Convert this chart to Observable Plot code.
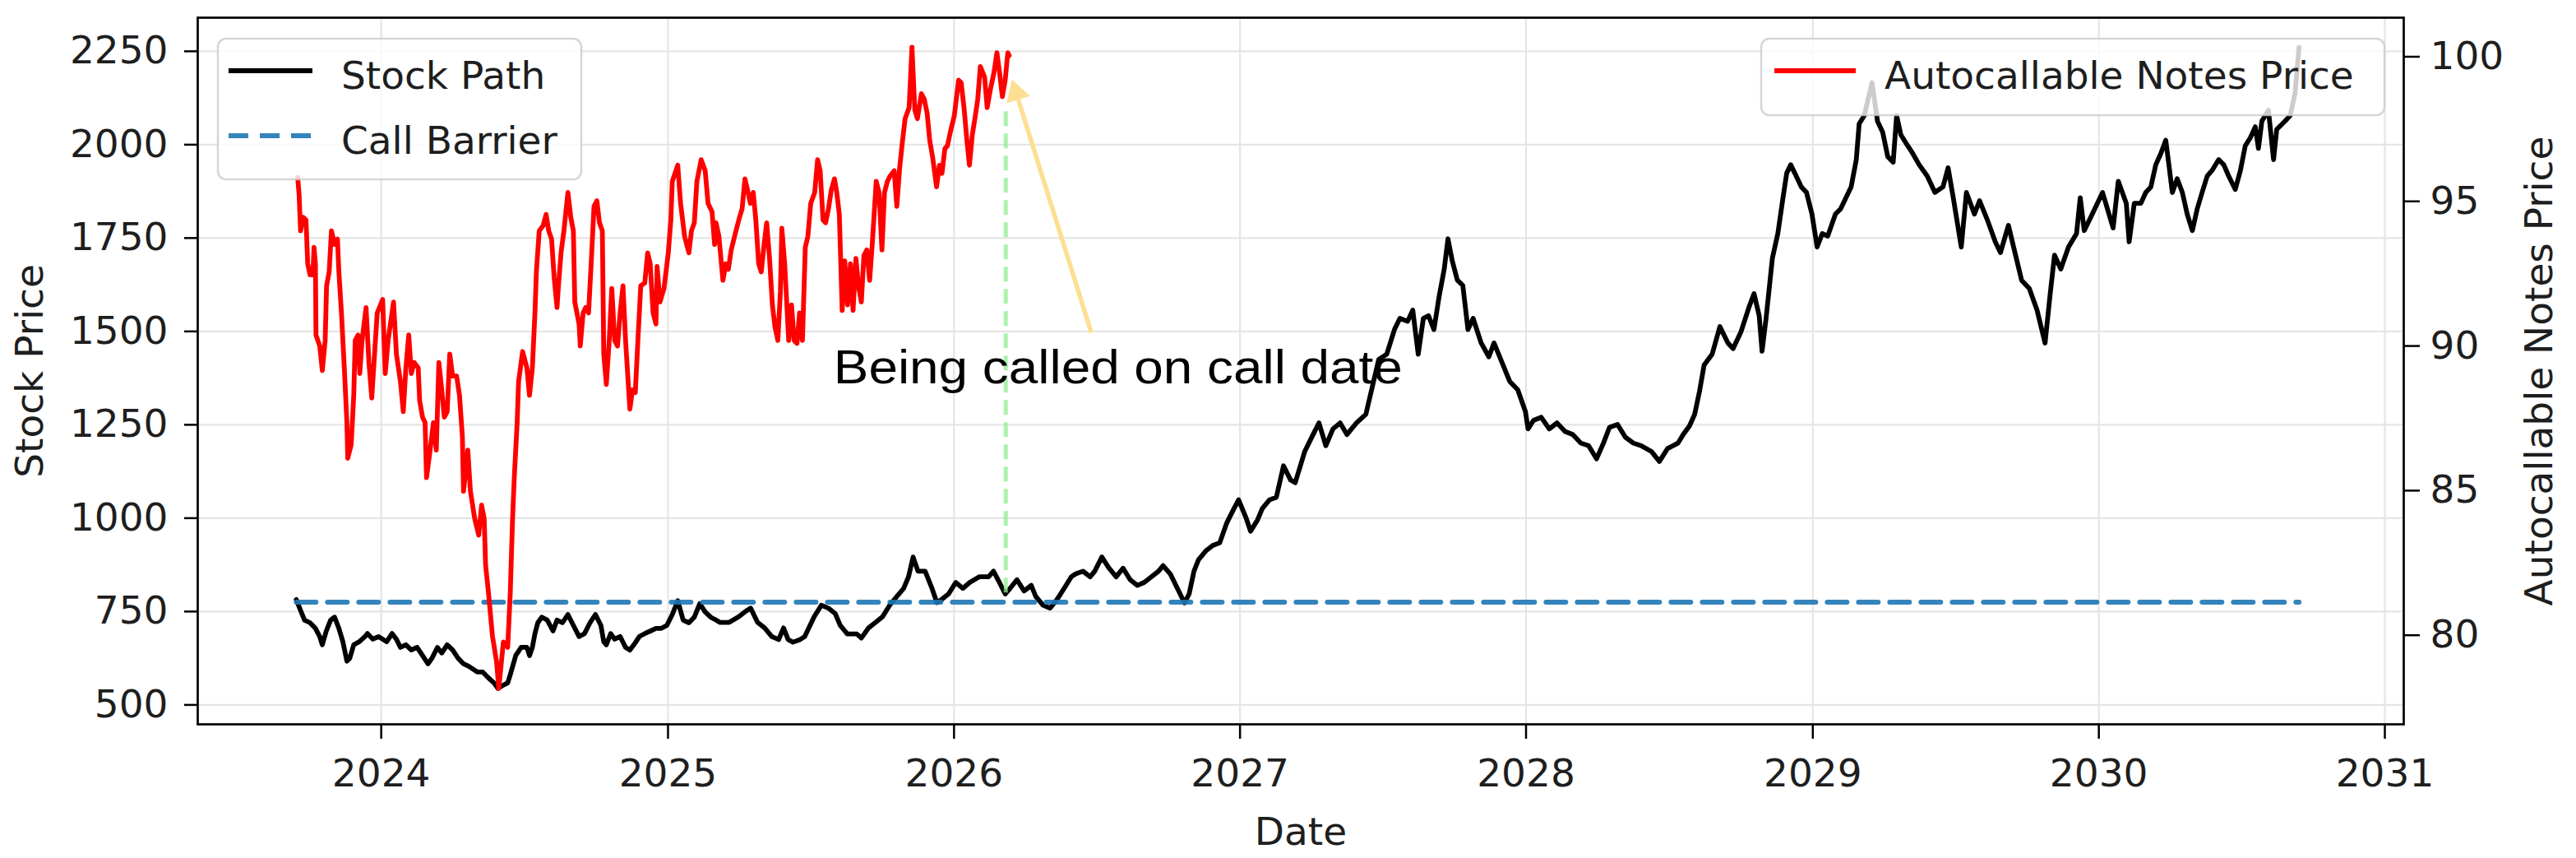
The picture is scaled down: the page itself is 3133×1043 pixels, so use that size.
<!DOCTYPE html>
<html><head><meta charset="utf-8">
<script src="https://cdn.jsdelivr.net/npm/d3@7"></script>
<script src="https://cdn.jsdelivr.net/npm/@observablehq/plot@0.6"></script>
<style>
html,body{margin:0;padding:0;background:#fff;}
#wrap{position:relative;width:3133px;height:1043px;overflow:hidden;background:#fff;}
#wrap svg{display:block;}
#legend{position:absolute;left:0;top:0;pointer-events:none;}
</style></head>
<body><div id="wrap"></div>
<script>
// ---------------- data ----------------
const stockYears = [
2023.703,2023.718,2023.732,2023.751,2023.770,2023.785,2023.794,2023.808,2023.823,2023.837,2023.852,2023.866,2023.880,2023.890,2023.904,2023.923,2023.943,2023.952,2023.971,2023.991,
2024.019,2024.038,2024.053,2024.067,2024.086,2024.105,2024.125,2024.144,2024.163,2024.177,2024.196,2024.211,2024.230,2024.249,2024.268,2024.287,2024.306,2024.335,2024.354,2024.373,
2024.393,2024.407,2024.421,2024.441,2024.450,2024.469,2024.488,2024.508,2024.517,2024.527,2024.536,2024.546,2024.560,2024.579,2024.599,2024.613,2024.632,2024.651,2024.670,2024.690,
2024.709,2024.728,2024.747,2024.766,2024.776,2024.785,2024.800,2024.814,2024.833,2024.852,2024.867,2024.881,2024.900,2024.919,2024.939,2024.958,2024.977,2024.996,2025.015,2025.034,
2025.053,2025.073,2025.092,2025.111,2025.130,2025.149,2025.168,2025.181,2025.214,2025.247,2025.272,2025.289,2025.313,2025.338,2025.363,2025.387,2025.404,2025.420,2025.437,2025.462,
2025.478,2025.511,2025.536,2025.561,2025.585,2025.602,2025.627,2025.660,2025.676,2025.701,2025.726,2025.750,2025.775,2025.800,2025.824,2025.841,2025.857,2025.874,2025.899,2025.923,
2025.940,2025.956,2025.981,2026.006,2026.031,2026.055,2026.088,2026.121,2026.138,2026.154,2026.179,2026.196,2026.220,2026.245,2026.270,2026.286,2026.311,2026.336,2026.360,2026.385,
2026.410,2026.426,2026.451,2026.476,2026.492,2026.517,2026.542,2026.567,2026.591,2026.616,2026.641,2026.665,2026.690,2026.715,2026.731,2026.756,2026.781,2026.806,2026.822,2026.839,
2026.855,2026.880,2026.905,2026.929,2026.954,2026.979,2026.995,2027.020,2027.037,2027.061,2027.078,2027.103,2027.127,2027.152,2027.177,2027.193,2027.226,2027.251,2027.276,2027.300,
2027.325,2027.350,2027.374,2027.407,2027.440,2027.485,2027.513,2027.540,2027.559,2027.586,2027.604,2027.623,2027.641,2027.659,2027.678,2027.696,2027.714,2027.727,2027.742,2027.760,
2027.779,2027.797,2027.815,2027.843,2027.870,2027.888,2027.916,2027.943,2027.971,2027.998,2028.007,2028.026,2028.053,2028.081,2028.108,2028.136,2028.163,2028.191,2028.218,2028.246,
2028.270,2028.291,2028.319,2028.346,2028.374,2028.401,2028.438,2028.465,2028.493,2028.530,2028.548,2028.570,2028.588,2028.605,2028.621,2028.649,2028.676,2028.704,2028.722,2028.749,
2028.777,2028.795,2028.813,2028.823,2028.837,2028.859,2028.878,2028.896,2028.909,2028.923,2028.942,2028.960,2028.978,2028.997,2029.015,2029.033,2029.052,2029.079,2029.097,2029.116,
2029.134,2029.152,2029.162,2029.180,2029.207,2029.226,2029.244,2029.262,2029.281,2029.293,2029.308,2029.326,2029.345,2029.372,2029.400,2029.427,2029.455,2029.473,2029.491,2029.519,
2029.537,2029.565,2029.583,2029.610,2029.638,2029.656,2029.684,2029.702,2029.730,2029.757,2029.784,2029.812,2029.830,2029.845,2029.867,2029.894,2029.922,2029.935,2029.949,2029.977,
2030.013,2030.050,2030.068,2030.096,2030.106,2030.124,2030.147,2030.164,2030.182,2030.199,2030.216,2030.234,2030.245,2030.257,2030.274,2030.292,2030.309,2030.327,2030.344,2030.361,
2030.379,2030.396,2030.419,2030.437,2030.454,2030.477,2030.495,2030.512,2030.530,2030.547,2030.558,2030.570,2030.593,2030.611,2030.622,2030.651,2030.669,2030.686,2030.700
];
const stockPrices = [
782,753,727,720,705,683,661,698,727,735,705,669,617,625,661,669,683,691,676,683,
669,691,676,654,661,647,654,632,610,625,654,639,661,647,625,610,603,588,588,573,
559,544,551,559,581,632,654,654,632,654,691,720,735,727,698,727,720,742,713,683,
691,720,742,713,669,661,691,676,683,654,647,661,683,691,698,705,705,713,742,779,
727,720,735,771,749,735,727,721,721,736,751,759,721,706,683,675,706,675,668,675,
683,736,767,759,744,713,690,690,679,706,721,736,767,790,812,843,896,858,858,812,
774,782,797,828,812,828,843,843,858,835,797,812,835,805,820,790,767,759,782,812,
843,851,858,843,858,896,866,843,866,835,820,828,843,858,873,851,812,773,797,858,
889,912,927,934,988,1026,1049,1003,965,995,1026,1049,1056,1140,1102,1095,1178,1217,1255,1194,
1239,1255,1224,1255,1278,1425,1439,1505,1535,1527,1557,1439,1535,1542,1505,1593,1667,1748,1689,1637,
1623,1505,1535,1469,1432,1469,1417,1366,1344,1285,1239,1262,1270,1239,1255,1232,1224,1201,1194,1159,
1201,1243,1251,1217,1201,1194,1178,1152,1186,1201,1224,1247,1278,1340,1410,1439,1513,1469,1454,1498,
1564,1601,1542,1447,1535,1696,1762,1858,1924,1946,1916,1887,1872,1814,1726,1762,1755,1814,1828,1858,
1887,1960,2056,2078,2166,2063,2034,1968,1953,2078,2026,2004,1982,1946,1916,1872,1887,1938,1858,1726,
1872,1814,1850,1799,1740,1711,1784,1726,1637,1615,1557,1469,1601,1704,1667,1726,1762,1858,1770,1814,
1872,1777,1902,1843,1740,1843,1843,1872,1887,1946,1975,2012,1946,1872,1909,1872,1814,1770,1828,1872,
1916,1931,1960,1946,1916,1880,1931,1997,2019,2048,1990,2063,2092,1960,2041,2063,2078,2137,2261
];
const notesYears = [
2023.708,2023.713,2023.718,2023.727,2023.737,2023.743,2023.751,2023.761,2023.765,2023.770,2023.772,2023.785,2023.794,2023.804,2023.809,2023.818,2023.826,2023.837,2023.847,2023.852,
2023.861,2023.871,2023.880,2023.883,2023.895,2023.904,2023.909,2023.919,2023.925,2023.933,2023.947,2023.957,2023.967,2023.976,2023.986,2024.005,2024.014,2024.024,2024.043,2024.053,
2024.067,2024.077,2024.086,2024.096,2024.105,2024.115,2024.129,2024.134,2024.144,2024.153,2024.158,2024.168,2024.182,2024.192,2024.201,2024.211,2024.220,2024.230,2024.239,2024.249,
2024.263,2024.273,2024.283,2024.287,2024.302,2024.311,2024.326,2024.340,2024.350,2024.359,2024.364,2024.374,2024.388,2024.402,2024.410,2024.426,2024.441,2024.450,2024.458,2024.464,
2024.474,2024.479,2024.493,2024.508,2024.517,2024.527,2024.536,2024.541,2024.551,2024.565,2024.575,2024.584,2024.594,2024.603,2024.613,2024.618,2024.627,2024.637,2024.651,2024.661,
2024.670,2024.675,2024.690,2024.694,2024.704,2024.713,2024.723,2024.733,2024.742,2024.752,2024.761,2024.771,2024.776,2024.785,2024.795,2024.804,2024.814,2024.824,2024.833,2024.843,
2024.852,2024.867,2024.876,2024.886,2024.895,2024.905,2024.919,2024.929,2024.938,2024.948,2024.958,2024.962,2024.972,2024.986,2025.001,2025.010,2025.015,2025.034,2025.044,2025.058,
2025.073,2025.082,2025.092,2025.101,2025.116,2025.130,2025.140,2025.154,2025.163,2025.168,2025.178,2025.192,2025.202,2025.211,2025.221,2025.235,2025.250,2025.259,2025.269,2025.278,
2025.288,2025.298,2025.307,2025.317,2025.326,2025.336,2025.345,2025.355,2025.365,2025.374,2025.384,2025.393,2025.398,2025.408,2025.422,2025.432,2025.441,2025.451,2025.460,2025.470,
2025.480,2025.489,2025.499,2025.513,2025.523,2025.532,2025.542,2025.551,2025.561,2025.571,2025.582,2025.590,2025.599,2025.609,2025.618,2025.628,2025.638,2025.647,2025.657,2025.666,
2025.676,2025.685,2025.695,2025.705,2025.714,2025.728,2025.738,2025.748,2025.757,2025.767,2025.776,2025.791,2025.800,2025.810,2025.819,2025.829,2025.843,2025.853,2025.863,2025.872,
2025.886,2025.896,2025.906,2025.915,2025.925,2025.939,2025.949,2025.958,2025.968,2025.977,2025.987,2026.001,2026.016,2026.025,2026.035,2026.045,2026.054,2026.064,2026.073,2026.083,
2026.092,2026.107,2026.116,2026.126,2026.140,2026.150,2026.159,2026.169,2026.179,2026.188,2026.193
];
const notesPrices = [
95.83,95.21,93.98,94.45,94.36,92.84,92.46,92.46,93.41,92.84,90.38,90.00,89.15,90.19,92.08,92.56,93.98,93.51,93.70,92.56,
91.14,89.24,87.35,86.12,86.59,88.29,90.19,90.38,89.05,90.19,91.33,89.43,88.20,89.62,91.14,91.61,89.05,90.19,91.52,89.72,
88.77,87.73,89.24,90.38,89.05,89.43,89.24,88.11,87.54,87.35,85.45,86.21,87.35,86.40,89.43,88.48,87.54,87.73,89.72,88.96,
88.96,88.29,86.87,84.98,86.40,84.98,84.03,83.46,84.50,84.03,82.42,81.47,79.96,79.10,78.16,79.77,79.58,81.47,84.03,85.45,
87.35,88.77,89.81,89.24,88.29,89.24,91.14,92.56,93.98,94.17,94.55,93.98,93.70,92.37,91.33,92.08,93.22,93.98,95.31,94.45,
93.98,91.52,90.76,90.00,91.14,91.33,91.14,93.03,94.83,95.02,94.26,93.98,89.72,88.67,90.19,91.99,90.19,90.00,91.14,92.08,
90.19,87.82,88.48,88.39,90.19,92.08,92.18,93.22,92.84,91.14,90.76,92.75,91.52,91.99,93.22,94.36,95.69,96.25,94.93,93.79,
93.22,93.98,94.26,95.69,96.44,96.06,94.93,94.64,93.51,94.26,93.79,92.27,92.84,92.65,93.32,93.88,94.45,94.74,95.78,95.40,
94.93,95.31,94.36,92.84,92.56,93.51,94.26,93.03,91.42,90.66,90.19,91.89,94.07,92.84,90.19,91.42,90.19,90.09,91.14,90.19,
93.41,93.79,94.93,95.31,96.44,96.06,94.36,94.26,94.74,95.40,95.78,95.31,94.55,91.23,92.94,91.42,92.84,91.23,93.03,92.08,
91.52,93.13,93.32,92.27,93.51,95.69,95.31,93.32,95.31,95.69,95.87,96.06,94.83,96.16,97.01,97.86,98.24,100.33,98.15,97.86,
98.72,98.53,98.05,97.11,96.54,95.50,96.25,95.97,96.82,96.92,97.39,97.96,99.19,99.10,98.24,97.11,96.25,97.30,97.86,98.53,
99.66,99.29,98.24,98.81,99.47,100.14,99.47,98.62,99.19,100.14,100.04
];
const barrierLevel = 775;
const callDateYear = 2026.181;
const callLineRange = [800, 2105];
const leftTicks = [500, 750, 1000, 1250, 1500, 1750, 2000, 2250];
const rightTicks = [80, 85, 90, 95, 100];
const yearTicks = [2024, 2025, 2026, 2027, 2028, 2029, 2030, 2031];
const leftDomain = [448, 2340];
const rightDomain = [76.92, 101.35];
const xDomainYears = [2023.3585, 2031.0661];
const annotationText = "Being called on call date";
const annotationAt = [2025.579, 88.72];
const arrowHead = [2026.2025, 99.22];
const arrowTail = [2026.480, 90.46];
const legendLeft = [{label: "Stock Path", color: "#000000", dash: null}, {label: "Call Barrier", color: "#1f77b4", dash: "24,14"}];
const legendRight = [{label: "Autocallable Notes Price", color: "#ff0000", dash: null}];

// ---------------- helpers ----------------
function yearToDate(y) {
  const Y = Math.floor(y);
  const a = Date.UTC(Y, 0, 1), b = Date.UTC(Y + 1, 0, 1);
  return new Date(a + (y - Y) * (b - a));
}
const toLeft = v => leftDomain[0] + (v - rightDomain[0]) * (leftDomain[1] - leftDomain[0]) / (rightDomain[1] - rightDomain[0]);
const fromLeft = v => rightDomain[0] + (v - leftDomain[0]) * (rightDomain[1] - rightDomain[0]) / (leftDomain[1] - leftDomain[0]);

const W = 3133, H = 1043, mL = 240, mR = 210, mT = 21, mB = 163;
const xDomain = xDomainYears.map(yearToDate);

const stock = stockYears.map((t, i) => ({date: yearToDate(t), value: stockPrices[i]}));
const notes = notesYears.map((t, i) => ({date: yearToDate(t), value: notesPrices[i]}));
const barrier = [{date: stock[0].date, value: barrierLevel}, {date: stock[stock.length - 1].date, value: barrierLevel}];
const callDate = yearToDate(callDateYear);

// replica scales for arrow-head geometry
const xS = d3.scaleUtc().domain(xDomain).range([mL, W - mR]);
const yS = d3.scaleLinear().domain(leftDomain).range([H - mB, mT]);
const tipP = [xS(yearToDate(arrowHead[0])), yS(toLeft(arrowHead[1]))];
const tailP = [xS(yearToDate(arrowTail[0])), yS(toLeft(arrowTail[1]))];
const len = Math.hypot(tipP[0] - tailP[0], tipP[1] - tailP[1]);
const u = [(tipP[0] - tailP[0]) / len, (tipP[1] - tailP[1]) / len];
const headR = 11.1;
const triY = Math.sqrt(headR * headR * Math.PI / (3 * Math.sqrt(3)));
const centroidP = [tipP[0] - u[0] * 2 * triY, tipP[1] - u[1] * 2 * triY];
const baseP = [tipP[0] - u[0] * 2.6 * triY, tipP[1] - u[1] * 2.6 * triY];
const headAngle = Math.atan2(u[0], -u[1]) * 180 / Math.PI;
const arrowColor = "#fddf94";

const txtColor = "#1e1e1e";
const fontSize = 47;
const lineW = 5.8;

const plot = Plot.plot({
  width: W, height: H,
  marginLeft: mL, marginRight: mR, marginTop: mT, marginBottom: mB,
  style: {fontFamily: "DejaVu Sans", fontSize: fontSize + "px", color: txtColor, background: "white", overflow: "visible"},
  x: {type: "utc", domain: xDomain, label: null},
  y: {domain: leftDomain, label: null},
  marks: [
    Plot.gridY(leftTicks, {stroke: "#e5e5e5", strokeOpacity: 1, strokeWidth: 2.4}),
    Plot.gridX(yearTicks.map(yearToDate), {stroke: "#e5e5e5", strokeOpacity: 1, strokeWidth: 2.2}),
    Plot.line(stock, {x: "date", y: "value", stroke: "#000000", strokeWidth: lineW, strokeLinejoin: "round"}),
    Plot.line(barrier, {x: "date", y: "value", stroke: "#1f77b4", strokeOpacity: 0.9, strokeWidth: 6, strokeDasharray: "24,14"}),
    Plot.ruleX([callDate], {x: d => d, y1: () => callLineRange[0], y2: () => callLineRange[1], stroke: "#90ee90", strokeOpacity: 0.75, strokeWidth: 5, strokeDasharray: "18,9"}),
    Plot.line(notes, {x: "date", y: d => toLeft(d.value), stroke: "#ff0000", strokeWidth: lineW, strokeLinejoin: "round"}),
    Plot.link([0], {x1: () => yearToDate(arrowTail[0]), y1: () => toLeft(arrowTail[1]), x2: () => xS.invert(baseP[0]), y2: () => yS.invert(baseP[1]), stroke: arrowColor, strokeWidth: 5.5}),
    Plot.dot([0], {x: () => xS.invert(centroidP[0]), y: () => yS.invert(centroidP[1]), symbol: "triangle", r: headR, rotate: headAngle, fill: arrowColor, stroke: "none"}),
    Plot.text([annotationText], {x: () => yearToDate(annotationAt[0]), y: () => toLeft(annotationAt[1]), text: d => d, textAnchor: "start", lineAnchor: "bottom", fontFamily: "Liberation Sans", fontSize: 57, fill: "#000"}),
    Plot.frame({stroke: "#000", strokeWidth: 2.7}),
    Plot.axisX(yearTicks.map(yearToDate), {anchor: "bottom", tickSize: 18, tickPadding: 24, strokeWidth: 2.5, stroke: "#000", tickFormat: d3.utcFormat("%Y"), label: null, fontSize: fontSize, fill: txtColor}),
    Plot.axisY(leftTicks, {anchor: "left", tickSize: 16, tickPadding: 20, strokeWidth: 2.5, stroke: "#000", label: null, fontSize: fontSize, fill: txtColor, tickFormat: d => String(d)}),
    Plot.axisY(rightTicks.map(toLeft), {anchor: "right", tickSize: 19, tickPadding: 13, strokeWidth: 2.5, stroke: "#000", label: null, fontSize: fontSize, fill: txtColor, tickFormat: d => String(Math.round(fromLeft(d)))}),
    Plot.text(["Stock Price"], {frameAnchor: "left", text: d => d, rotate: -90, dx: -189, textAnchor: "middle", lineAnchor: "bottom", fontSize: fontSize, fill: txtColor}),
    Plot.text(["Autocallable Notes Price"], {frameAnchor: "right", text: d => d, rotate: -90, dx: 180, textAnchor: "middle", lineAnchor: "bottom", fontSize: fontSize, fill: txtColor}),
    Plot.text(["Date"], {frameAnchor: "bottom", text: d => d, dy: 146, textAnchor: "middle", lineAnchor: "bottom", fontSize: fontSize, fill: txtColor})
  ]
});

const wrap = document.getElementById("wrap");
wrap.appendChild(plot);

// stretch annotation to the reference width
d3.select(plot).selectAll("text").filter(function() { return this.textContent === annotationText; })
  .attr("textLength", 692).attr("lengthAdjust", "spacingAndGlyphs");

// ---------------- legends (overlay, translucent boxes) ----------------
const lg = d3.select(wrap).append("svg").attr("id", "legend").attr("width", W).attr("height", H)
  .style("font-family", "DejaVu Sans").style("font-size", fontSize + "px");

function drawLegend(items, box, sampleX, textX, rowY) {
  lg.append("rect").attr("x", box[0]).attr("y", box[1]).attr("width", box[2]).attr("height", box[3])
    .attr("rx", 10).attr("fill", "white").attr("fill-opacity", 0.8)
    .attr("stroke", "#cccccc").attr("stroke-opacity", 0.8).attr("stroke-width", 2.5);
  items.forEach((it, i) => {
    lg.append("line").attr("x1", sampleX[0]).attr("x2", sampleX[1]).attr("y1", rowY[i]).attr("y2", rowY[i])
      .attr("stroke", it.color).attr("stroke-width", it.dash ? 6 : lineW)
      .attr("stroke-opacity", it.dash ? 0.9 : 1)
      .attr("stroke-dasharray", it.dash || null);
    lg.append("text").attr("x", textX).attr("y", rowY[i] + 22).attr("fill", txtColor).text(it.label);
  });
}
drawLegend(legendLeft, [265, 47, 442, 171], [278, 380], 415, [86, 165]);
drawLegend(legendRight, [2142, 47, 758, 93], [2158, 2257], 2292, [86]);
</script>
</body></html>
